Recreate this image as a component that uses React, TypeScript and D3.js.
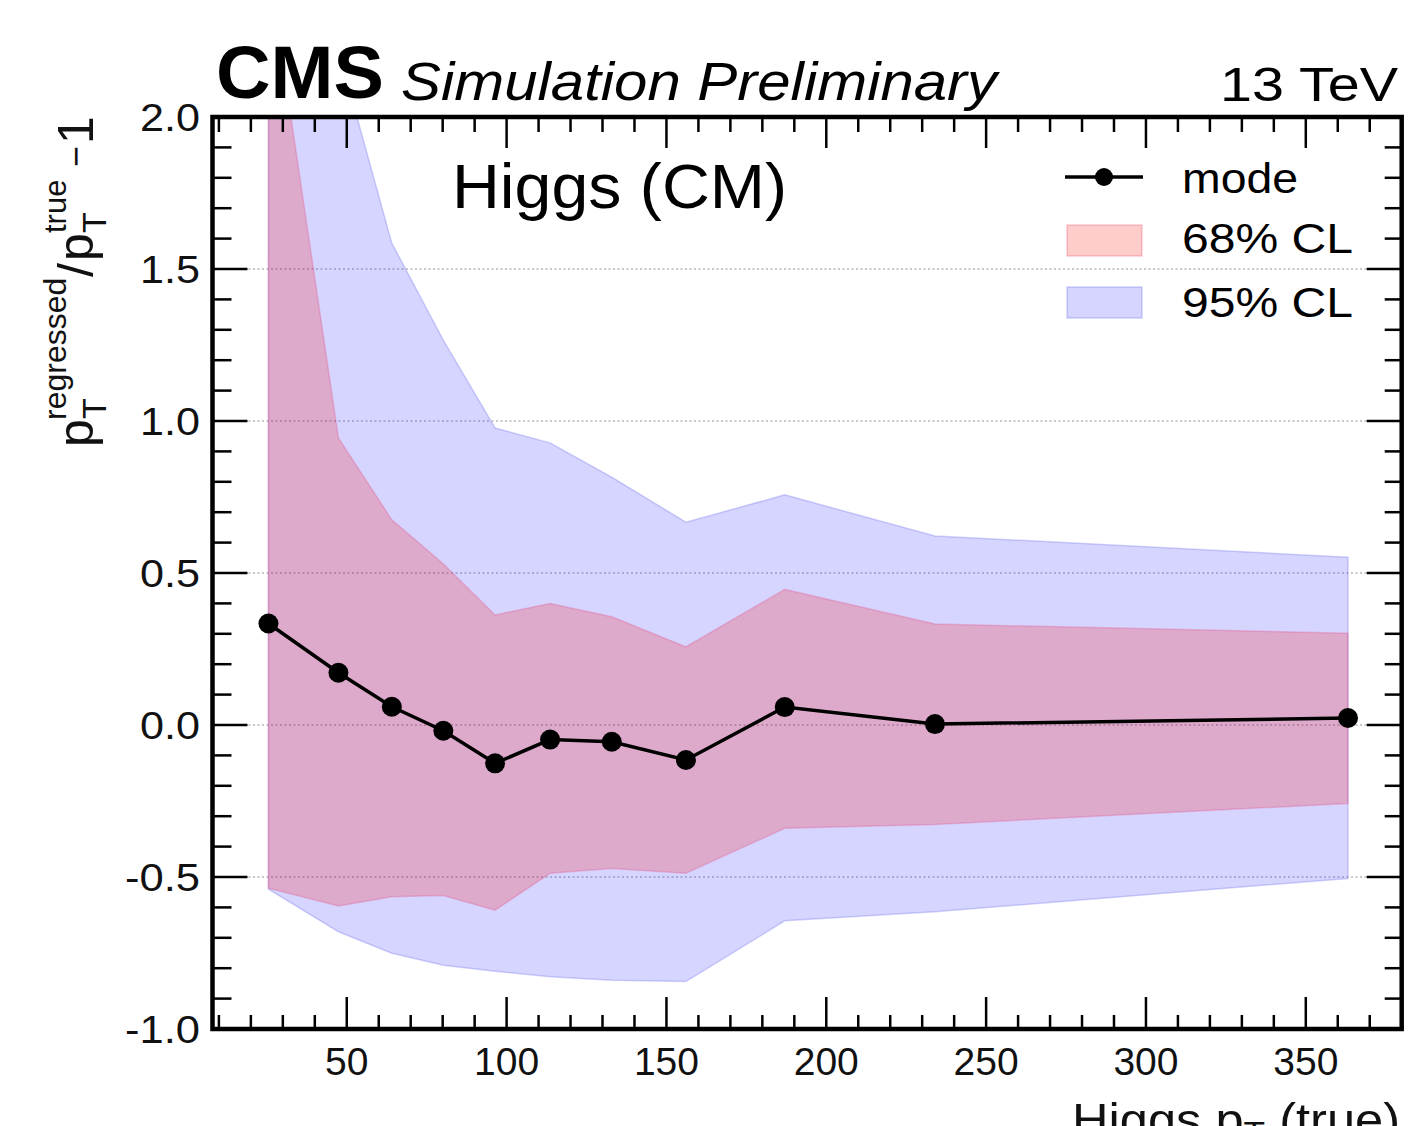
import React from 'react';
import * as d3 from 'd3';

// Higgs pT (true) bin centres and the regressed/true - 1 summary per bin
const ptTrue = [25.5, 47.4, 64.1, 80.2, 96.4, 113.6, 132.9, 156.1, 187.0, 234.0, 363.2];
const modeVals = [0.334, 0.172, 0.06, -0.019, -0.126, -0.048, -0.055, -0.115, 0.059, 0.003, 0.023];
const cl68Lo = [-0.537, -0.595, -0.565, -0.561, -0.609, -0.488, -0.472, -0.488, -0.34, -0.327, -0.258];
const cl68Hi = [2.5, 0.944, 0.675, 0.53, 0.362, 0.4, 0.356, 0.257, 0.446, 0.332, 0.302];
const cl95Lo = [-0.54, -0.68, -0.751, -0.79, -0.81, -0.828, -0.84, -0.844, -0.644, -0.614, -0.505];
const cl95Hi = [3.5, 2.22, 1.585, 1.266, 0.977, 0.928, 0.815, 0.667, 0.757, 0.622, 0.552];

const xTicks = [50, 100, 150, 200, 250, 300, 350];
const xTickLabels = ['50', '100', '150', '200', '250', '300', '350'];
const yTicks = [-1.0, -0.5, 0.0, 0.5, 1.0, 1.5, 2.0];
const yTickLabels = ['-1.0', '-0.5', '0.0', '0.5', '1.0', '1.5', '2.0'];
const gridVals = [-0.5, 0.0, 0.5, 1.0, 1.5];

const W = 1411;
const H = 1126;
const L = 212.5, R = 1401.7, T = 117, B = 1029;
const FONT = "'Liberation Sans', Arial, Helvetica, sans-serif";

const BLUE = 'rgba(0,0,255,0.165)';
const PINK = 'rgba(255,0,0,0.2)';

const App = () => {
    const x = d3.scaleLinear().domain([8, 380]).range([L, R]);
    const y = d3.scaleLinear().domain([-1, 2]).range([B, T]);

    const band = (lo: number[], hi: number[]) =>
        d3.area<number>()
            .x((d, i) => x(ptTrue[i]))
            .y0((d, i) => y(lo[i]))
            .y1((d, i) => y(hi[i]))(ptTrue) || '';

    const modeLine = d3.line<number>()
        .x((d, i) => x(ptTrue[i]))
        .y(d => y(d))(modeVals) || '';

    const xMinor = d3.range(10, 381, 10).filter(v => !xTicks.includes(v));
    const yMinor = d3.range(-10, 21, 1).map(v => v / 10).filter(v => Math.abs(v * 2 - Math.round(v * 2)) > 1e-6);

    return (
        <svg width={W} height={H} style={{ position: 'absolute', left: 0, top: 0, background: '#fff' }}
            fontFamily={FONT}>
            <defs>
                <clipPath id="plotClip">
                    <rect x={L} y={T} width={R - L} height={B - T} />
                </clipPath>
            </defs>

            {/* dotted grid */}
            {gridVals.map(v => (
                <line key={'g' + v} x1={L} x2={R} y1={y(v)} y2={y(v)}
                    stroke="#b8b8b8" strokeWidth={1.5} strokeDasharray="2,2.5" />
            ))}

            <g clipPath="url(#plotClip)">
                <path d={band(cl95Lo, cl95Hi)} fill={BLUE} stroke="rgba(80,80,230,0.25)" strokeWidth={1.5} />
                <path d={band(cl68Lo, cl68Hi)} fill={PINK} stroke="rgba(230,60,120,0.25)" strokeWidth={1.5} />
            </g>

            <path d={modeLine} fill="none" stroke="#000" strokeWidth={3.5} />
            {modeVals.map((v, i) => (
                <circle key={'m' + i} cx={x(ptTrue[i])} cy={y(v)} r={10} fill="#000" />
            ))}

            {/* ticks on all four sides */}
            <g stroke="#000" strokeWidth={2.5}>
                {xTicks.map(v => (
                    <g key={'xt' + v}>
                        <line x1={x(v)} x2={x(v)} y1={B} y2={B - 32} />
                        <line x1={x(v)} x2={x(v)} y1={T} y2={T + 31} />
                    </g>
                ))}
                {xMinor.map(v => (
                    <g key={'xm' + v}>
                        <line x1={x(v)} x2={x(v)} y1={B} y2={B - 14} />
                        <line x1={x(v)} x2={x(v)} y1={T} y2={T + 15} />
                    </g>
                ))}
                {yTicks.map(v => (
                    <g key={'yt' + v}>
                        <line x1={L} x2={L + 35} y1={y(v)} y2={y(v)} />
                        <line x1={R} x2={R - 35} y1={y(v)} y2={y(v)} />
                    </g>
                ))}
                {yMinor.map(v => (
                    <g key={'ym' + v}>
                        <line x1={L} x2={L + 19} y1={y(v)} y2={y(v)} />
                        <line x1={R} x2={R - 17} y1={y(v)} y2={y(v)} />
                    </g>
                ))}
            </g>

            <rect x={L} y={T} width={R - L} height={B - T} fill="none" stroke="#000" strokeWidth={4.5} />

            {/* tick labels */}
            {xTicks.map((v, i) => (
                <text key={'xl' + v} x={x(v)} y={1075} fontSize={39} textAnchor="middle" fill="#111">
                    {xTickLabels[i]}
                </text>
            ))}
            {yTicks.map((v, i) => (
                <text key={'yl' + v} x={200} y={y(v) + 14} fontSize={38} textAnchor="end" fill="#111"
                    textLength={yTickLabels[i].startsWith('-') ? 75 : 60} lengthAdjust="spacingAndGlyphs">
                    {yTickLabels[i]}
                </text>
            ))}

            {/* header */}
            <text x={216} y={98} fontSize={74} fontWeight={700} textLength={168} lengthAdjust="spacingAndGlyphs">CMS</text>
            <text x={401} y={100} fontSize={54} fontStyle="italic" textLength={596} lengthAdjust="spacingAndGlyphs">Simulation Preliminary</text>
            <text x={1220} y={101} fontSize={49} textLength={178} lengthAdjust="spacingAndGlyphs">13 TeV</text>

            <text x={452} y={208} fontSize={63} textLength={335} lengthAdjust="spacingAndGlyphs">Higgs (CM)</text>

            {/* legend */}
            <line x1={1065} x2={1143} y1={177} y2={177} stroke="#000" strokeWidth={3.5} />
            <circle cx={1104} cy={177} r={9} fill="#000" />
            <text x={1182} y={193} fontSize={42} textLength={116} lengthAdjust="spacingAndGlyphs">mode</text>
            <rect x={1067} y={225} width={75} height={31} fill={PINK} stroke="rgba(230,60,80,0.25)" strokeWidth={1.5} />
            <text x={1182} y={253} fontSize={42} textLength={171} lengthAdjust="spacingAndGlyphs">68% CL</text>
            <rect x={1067} y={287} width={75} height={31} fill={BLUE} stroke="rgba(80,80,230,0.25)" strokeWidth={1.5} />
            <text x={1182} y={317} fontSize={42} textLength={171} lengthAdjust="spacingAndGlyphs">95% CL</text>

            {/* y axis title */}
            <g transform="translate(93,447) rotate(-90)" fill="#111">
                <text x={0} y={0} fontSize={50}>p</text>
                <text x={28} y={13} fontSize={34}>T</text>
                <text x={27} y={-27} fontSize={32}>regressed</text>
                <text x={170} y={0} fontSize={50}>/</text>
                <text x={186} y={0} fontSize={50}>p</text>
                <text x={214} y={13} fontSize={34}>T</text>
                <text x={214} y={-27} fontSize={31}>true</text>
                <text x={280} y={-5} fontSize={36}>−</text>
                <text x={303} y={0} fontSize={50}>1</text>
            </g>

            {/* x axis title, cut by the page edge like the original */}
            <g transform="translate(1400,1136) scale(1.1,1)">
                <text x={0} y={0} fontSize={46} textAnchor="end" fill="#111">
                    Higgs p<tspan fontSize={32} dy={8}>T</tspan><tspan dy={-8}> (true)</tspan>
                </text>
            </g>
        </svg>
    );
};

export default App;
